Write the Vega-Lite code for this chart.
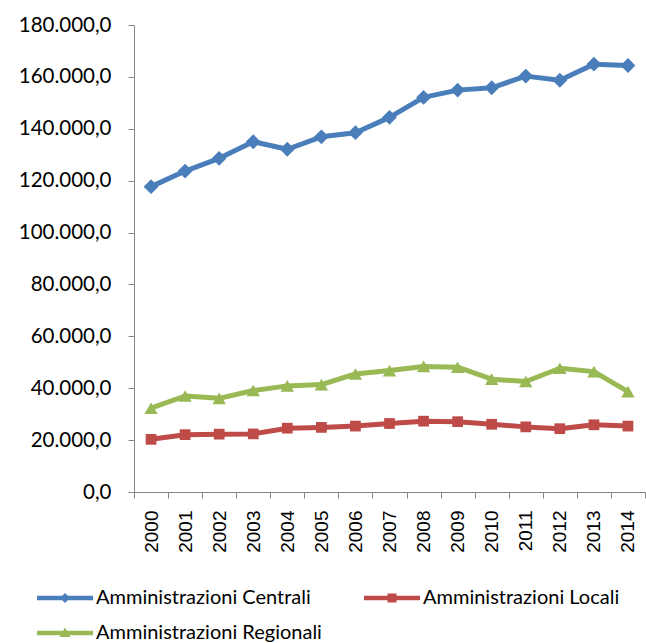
{
  "$schema": "https://vega.github.io/schema/vega-lite/v6.json",
  "width": 511,
  "height": 467,
  "autosize": {"type": "none"},
  "padding": {"left": 134, "top": 25, "right": 1, "bottom": 151},
  "config": {
    "locale": {"number": {"decimal": ",", "thousands": ".", "grouping": [3], "currency": ["€", ""]}},
    "view": {"stroke": null},
    "font": "Lato"
  },
  "data": {
    "values": [
      {"anno": "2000", "serie": "Amministrazioni Centrali", "valore": 117700},
      {"anno": "2001", "serie": "Amministrazioni Centrali", "valore": 123700},
      {"anno": "2002", "serie": "Amministrazioni Centrali", "valore": 128600},
      {"anno": "2003", "serie": "Amministrazioni Centrali", "valore": 135000},
      {"anno": "2004", "serie": "Amministrazioni Centrali", "valore": 132100},
      {"anno": "2005", "serie": "Amministrazioni Centrali", "valore": 136900},
      {"anno": "2006", "serie": "Amministrazioni Centrali", "valore": 138500},
      {"anno": "2007", "serie": "Amministrazioni Centrali", "valore": 144400},
      {"anno": "2008", "serie": "Amministrazioni Centrali", "valore": 152100},
      {"anno": "2009", "serie": "Amministrazioni Centrali", "valore": 154900},
      {"anno": "2010", "serie": "Amministrazioni Centrali", "valore": 155800},
      {"anno": "2011", "serie": "Amministrazioni Centrali", "valore": 160300},
      {"anno": "2012", "serie": "Amministrazioni Centrali", "valore": 158700},
      {"anno": "2013", "serie": "Amministrazioni Centrali", "valore": 164900},
      {"anno": "2014", "serie": "Amministrazioni Centrali", "valore": 164400},
      {"anno": "2000", "serie": "Amministrazioni Locali", "valore": 20300},
      {"anno": "2001", "serie": "Amministrazioni Locali", "valore": 22100},
      {"anno": "2002", "serie": "Amministrazioni Locali", "valore": 22300},
      {"anno": "2003", "serie": "Amministrazioni Locali", "valore": 22400},
      {"anno": "2004", "serie": "Amministrazioni Locali", "valore": 24600},
      {"anno": "2005", "serie": "Amministrazioni Locali", "valore": 24900},
      {"anno": "2006", "serie": "Amministrazioni Locali", "valore": 25400},
      {"anno": "2007", "serie": "Amministrazioni Locali", "valore": 26400},
      {"anno": "2008", "serie": "Amministrazioni Locali", "valore": 27300},
      {"anno": "2009", "serie": "Amministrazioni Locali", "valore": 27100},
      {"anno": "2010", "serie": "Amministrazioni Locali", "valore": 26100},
      {"anno": "2011", "serie": "Amministrazioni Locali", "valore": 25100},
      {"anno": "2012", "serie": "Amministrazioni Locali", "valore": 24400},
      {"anno": "2013", "serie": "Amministrazioni Locali", "valore": 25900},
      {"anno": "2014", "serie": "Amministrazioni Locali", "valore": 25400},
      {"anno": "2000", "serie": "Amministrazioni Regionali", "valore": 32300},
      {"anno": "2001", "serie": "Amministrazioni Regionali", "valore": 37000},
      {"anno": "2002", "serie": "Amministrazioni Regionali", "valore": 36100},
      {"anno": "2003", "serie": "Amministrazioni Regionali", "valore": 39100},
      {"anno": "2004", "serie": "Amministrazioni Regionali", "valore": 40900},
      {"anno": "2005", "serie": "Amministrazioni Regionali", "valore": 41400},
      {"anno": "2006", "serie": "Amministrazioni Regionali", "valore": 45500},
      {"anno": "2007", "serie": "Amministrazioni Regionali", "valore": 46800},
      {"anno": "2008", "serie": "Amministrazioni Regionali", "valore": 48400},
      {"anno": "2009", "serie": "Amministrazioni Regionali", "valore": 48100},
      {"anno": "2010", "serie": "Amministrazioni Regionali", "valore": 43500},
      {"anno": "2011", "serie": "Amministrazioni Regionali", "valore": 42600},
      {"anno": "2012", "serie": "Amministrazioni Regionali", "valore": 47700},
      {"anno": "2013", "serie": "Amministrazioni Regionali", "valore": 46400},
      {"anno": "2014", "serie": "Amministrazioni Regionali", "valore": 38700}
    ]
  },
  "encoding": {
    "x": {
      "field": "anno", "type": "ordinal",
      "scale": {"type": "band", "paddingInner": 0, "paddingOuter": 0},
      "axis": {
        "title": null, "labelAngle": -90, "tickBand": "extent",
        "domainColor": "#868686", "tickColor": "#868686", "tickSize": 6,
        "labelFont": "Liberation Sans", "labelFontSize": 19, "labelColor": "#000000",
        "labelPadding": 12, "grid": false
      }
    },
    "y": {
      "field": "valore", "type": "quantitative",
      "scale": {"domain": [0, 180000], "nice": false},
      "axis": {
        "title": null, "values": [0, 20000, 40000, 60000, 80000, 100000, 120000, 140000, 160000, 180000],
        "format": ",.1f", "grid": false,
        "domainColor": "#868686", "tickColor": "#868686", "tickSize": 6,
        "labelFont": "Lato", "labelFontSize": 20.5, "labelColor": "#000000", "labelPadding": 17
      }
    },
    "color": {
      "field": "serie", "type": "nominal",
      "scale": {"domain": ["Amministrazioni Centrali", "Amministrazioni Locali", "Amministrazioni Regionali"], "range": ["#4A7EBB", "#BE4B48", "#98B954"]}
    }
  },
  "layer": [
    {
      "mark": {"type": "point", "filled": true, "opacity": 0, "size": 400},
      "encoding": {
        "shape": {
          "field": "serie", "type": "nominal",
          "scale": {"domain": ["Amministrazioni Centrali", "Amministrazioni Locali", "Amministrazioni Regionali"], "range": [
            "M-2.8,-0.23H-0.27L0,-0.5L0.27,-0.23H2.8V0.23H0.27L0,0.5L-0.27,0.23H-2.8Z",
            "M-2.8,-0.23H-0.45V-0.45H0.45V-0.23H2.8V0.23H0.45V0.45H-0.45V0.23H-2.8Z",
            "M-2.8,-0.23H-0.185L0,-0.55L0.185,-0.23H2.8V0.23H0.452L0.55,0.4H-0.55L-0.452,0.23H-2.8Z"
          ]},
          "legend": {
            "title": null, "orient": "none", "legendX": -79, "legendY": 563,
            "direction": "horizontal", "columns": 2, "gridAlign": "none",
            "columnPadding": 42, "rowPadding": 15, "padding": 0,
            "symbolSize": 400, "symbolOpacity": 1, "symbolStrokeWidth": 0,
            "labelOffset": 21, "labelFont": "Lato", "labelFontSize": 20, "labelColor": "#000000", "labelLimit": 400
          }
        }
      }
    },
    {
      "mark": {"type": "line", "strokeWidth": 5, "strokeJoin": "round"}
    },
    {
      "transform": [{"filter": "datum.serie === 'Amministrazioni Centrali'"}],
      "mark": {"type": "point", "shape": "diamond", "filled": true, "opacity": 1, "size": 220}
    },
    {
      "transform": [{"filter": "datum.serie === 'Amministrazioni Locali'"}],
      "mark": {"type": "point", "shape": "square", "filled": true, "opacity": 1, "size": 115}
    },
    {
      "transform": [{"filter": "datum.serie === 'Amministrazioni Regionali'"}],
      "mark": {"type": "point", "shape": "triangle-up", "filled": true, "opacity": 1, "size": 180}
    }
  ]
}
